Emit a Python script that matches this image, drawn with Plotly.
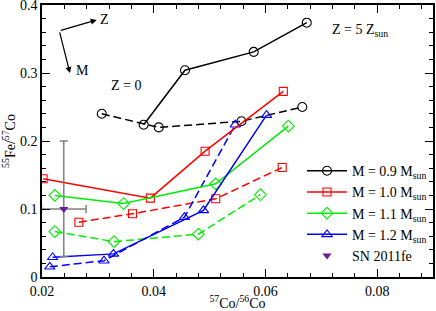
import plotly.graph_objects as go

# Data: x = 57Co/56Co, y = 55Fe/57Co
m09_solid_x = [0.0382, 0.0456, 0.0579, 0.0674]
m09_solid_y = [0.224, 0.304, 0.331, 0.374]
m09_dash_x = [0.0307, 0.0409, 0.0557, 0.0666]
m09_dash_y = [0.240, 0.220, 0.229, 0.250]

m10_solid_x = [0.0202, 0.0394, 0.0492, 0.0632]
m10_solid_y = [0.1445, 0.116, 0.185, 0.273]
m10_dash_x = [0.0266, 0.0362, 0.0511, 0.0630]
m10_dash_y = [0.0806, 0.093, 0.115, 0.161]

m11_solid_x = [0.0223, 0.0346, 0.0511, 0.0641]
m11_solid_y = [0.120, 0.108, 0.137, 0.222]
m11_dash_x = [0.0223, 0.0329, 0.0480, 0.0591]
m11_dash_y = [0.0668, 0.052, 0.063, 0.121]

m12_solid_x = [0.0219, 0.0328, 0.0489, 0.0602]
m12_solid_y = [0.029, 0.034, 0.098, 0.238]
m12_dash_x = [0.0214, 0.0311, 0.0455, 0.0546]
m12_dash_y = [0.015, 0.024, 0.088, 0.224]

sn_x = [0.0239]
sn_y = [0.100]
sn_xerr = [0.004]
sn_yerr_plus = [0.100]
sn_yerr_minus = [0.070]

x_tickvals = [0.02, 0.04, 0.06, 0.08]
x_ticktext = ["0.02", "0.04", "0.06", "0.08"]
y_tickvals = [0, 0.1, 0.2, 0.3, 0.4]
y_ticktext = ["0", "0.1", "0.2", "0.3", "0.4"]

series = [
    ("M = 0.9 M<sub>sun</sub>", "black", "circle-open", 9, m09_solid_x, m09_solid_y, m09_dash_x, m09_dash_y),
    ("M = 1.0 M<sub>sun</sub>", "#ff0000", "square-open", 8, m10_solid_x, m10_solid_y, m10_dash_x, m10_dash_y),
    ("M = 1.1 M<sub>sun</sub>", "#00ee00", "diamond-open", 9, m11_solid_x, m11_solid_y, m11_dash_x, m11_dash_y),
    ("M = 1.2 M<sub>sun</sub>", "#0000ff", "triangle-up-open", 9, m12_solid_x, m12_solid_y, m12_dash_x, m12_dash_y),
]

FONT = "Liberation Serif"
FS = 14

fig = go.Figure()
for name, color, sym, sz, sx, sy, dx, dy in series:
    fig.add_trace(go.Scatter(
        x=dx, y=dy, mode="lines+markers", showlegend=False,
        line=dict(color=color, width=1.5, dash="8px,4px"),
        marker=dict(symbol=sym, size=sz, color=color, line=dict(width=1.1, color=color)),
    ))
for name, color, sym, sz, sx, sy, dx, dy in series:
    fig.add_trace(go.Scatter(
        x=sx, y=sy, mode="lines+markers", name=name,
        line=dict(color=color, width=1.5),
        marker=dict(symbol=sym, size=sz, color=color, line=dict(width=1.1, color=color)),
    ))

fig.add_trace(go.Scatter(
    x=sn_x, y=sn_y, mode="markers", name="SN 2011fe",
    marker=dict(symbol="triangle-down", size=8, color="#6a1b9a"),
    error_x=dict(type="data", array=sn_xerr, color="#808080", thickness=1.5, width=4),
    error_y=dict(type="data", array=sn_yerr_plus, arrayminus=sn_yerr_minus,
                 color="#808080", thickness=1.5, width=4),
))

axis_common = dict(
    showline=True, linecolor="black", linewidth=1.5, mirror="ticks",
    ticks="inside", ticklen=8, tickwidth=1, tickcolor="black",
    showgrid=False, zeroline=False, ticklabeloverflow="allow",
    tickfont=dict(family=FONT, size=FS, color="black"),
)

fig.update_xaxes(
    range=[0.02, 0.09], tickvals=x_tickvals, ticktext=x_ticktext,
    minor=dict(ticks="inside", ticklen=4, dtick=0.004, tick0=0.02, tickcolor="black"),
    title=dict(text="<sup>57</sup>Co/<sup>56</sup>Co", font=dict(family=FONT, size=FS), standoff=5),
    **axis_common,
)
fig.update_yaxes(
    range=[0, 0.4], tickvals=y_tickvals, ticktext=y_ticktext,
    minor=dict(ticks="inside", ticklen=4, dtick=0.02, tick0=0, tickcolor="black"),
    title=dict(text="<sup>55</sup>Fe/<sup>57</sup>Co", font=dict(family=FONT, size=FS), standoff=2),
    **axis_common,
)

ann_font = dict(family=FONT, size=FS, color="black")
fig.add_annotation(x=0.0298, y=0.378, ax=0.0231, ay=0.362, axref="x", ayref="y",
                   text="", showarrow=True, arrowhead=2, arrowsize=1, arrowwidth=1.2, arrowcolor="black")
fig.add_annotation(x=0.0250, y=0.300, ax=0.0231, ay=0.362, axref="x", ayref="y",
                   text="", showarrow=True, arrowhead=2, arrowsize=1, arrowwidth=1.2, arrowcolor="black")
fig.add_annotation(x=0.0300, y=0.378, text="Z", showarrow=False, xanchor="left", font=ann_font)
fig.add_annotation(x=0.0258, y=0.304, text="M", showarrow=False, xanchor="left", font=ann_font)
fig.add_annotation(x=0.0351, y=0.281, text="Z = 0", showarrow=False, font=ann_font)
fig.add_annotation(x=0.0715, y=0.363, text="Z = 5 Z<sub>sun</sub>", showarrow=False,
                   xanchor="left", font=ann_font)

fig.update_layout(
    width=436, height=311,
    margin=dict(l=42, r=3, t=5, b=34, autoexpand=False),
    plot_bgcolor="white", paper_bgcolor="white",
    font=dict(family=FONT, size=FS, color="black"),
    legend=dict(x=0.665, y=0.448, xanchor="left", yanchor="top",
                bgcolor="rgba(0,0,0,0)", borderwidth=0,
                font=dict(family=FONT, size=FS), tracegroupgap=0, itemwidth=40),
    showlegend=True,
)

fig.write_html("out.html", config={"displayModeBar": False},
               post_script="document.body.style.margin='0';document.body.style.overflow='hidden';")
